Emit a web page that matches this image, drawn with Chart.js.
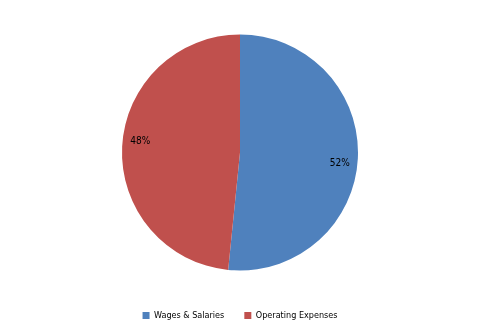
<!DOCTYPE html>
<html>
<head>
<meta charset="utf-8">
<script src="https://cdn.jsdelivr.net/npm/chart.js@4/dist/chart.umd.min.js"></script>
<style>
  html, body { margin: 0; padding: 0; background: #fff; }
  #wrap { width: 480px; height: 333px; }
</style>
</head>
<body>
<div id="wrap"><canvas id="pieChart"></canvas></div>
<script>
// Data
const categories = ['Wages & Salaries', 'Operating Expenses'];
const shares = [51.6, 48.4];
const colors = ['#4F81BD', '#C0504D'];

const fontFamily = "'Liberation Sans Narrow', 'DejaVu Sans Condensed', 'Liberation Sans', Arial, sans-serif";

// percent labels inside slices (nudged a little clockwise like the original)
const sliceLabels = {
    id: 'sliceLabels',
    afterDatasetsDraw(chart) {
        const ctx = chart.ctx;
        const meta = chart.getDatasetMeta(0);
        ctx.save();
        ctx.font = '10px ' + fontFamily;
        ctx.fillStyle = '#000';
        ctx.textAlign = 'center';
        ctx.textBaseline = 'middle';
        meta.data.forEach((arc, i) => {
            const mid = (arc.startAngle + arc.endAngle) / 2 + 0.06;
            const r = arc.outerRadius * 0.85;
            const x = arc.x + Math.cos(mid) * r;
            const y = arc.y + Math.sin(mid) * r;
            ctx.fillText(Math.round(shares[i]) + '%', x, y);
        });
        ctx.restore();
    }
};

const ctx = document.getElementById('pieChart').getContext('2d');
new Chart(ctx, {
    type: 'pie',
    data: {
        labels: categories,
        datasets: [{
            data: shares,
            backgroundColor: colors,
            borderWidth: 0
        }]
    },
    options: {
        responsive: true,
        maintainAspectRatio: false,
        animation: false,
        radius: 118,
        layout: { padding: { top: 14, bottom: 3 } },
        plugins: {
            legend: {
                position: 'bottom',
                labels: {
                    boxWidth: 7,
                    boxHeight: 7,
                    padding: 20,
                    color: '#000',
                    font: { size: 9, family: fontFamily }
                }
            },
            tooltip: { enabled: false }
        }
    },
    plugins: [sliceLabels]
});
</script>
</body>
</html>
